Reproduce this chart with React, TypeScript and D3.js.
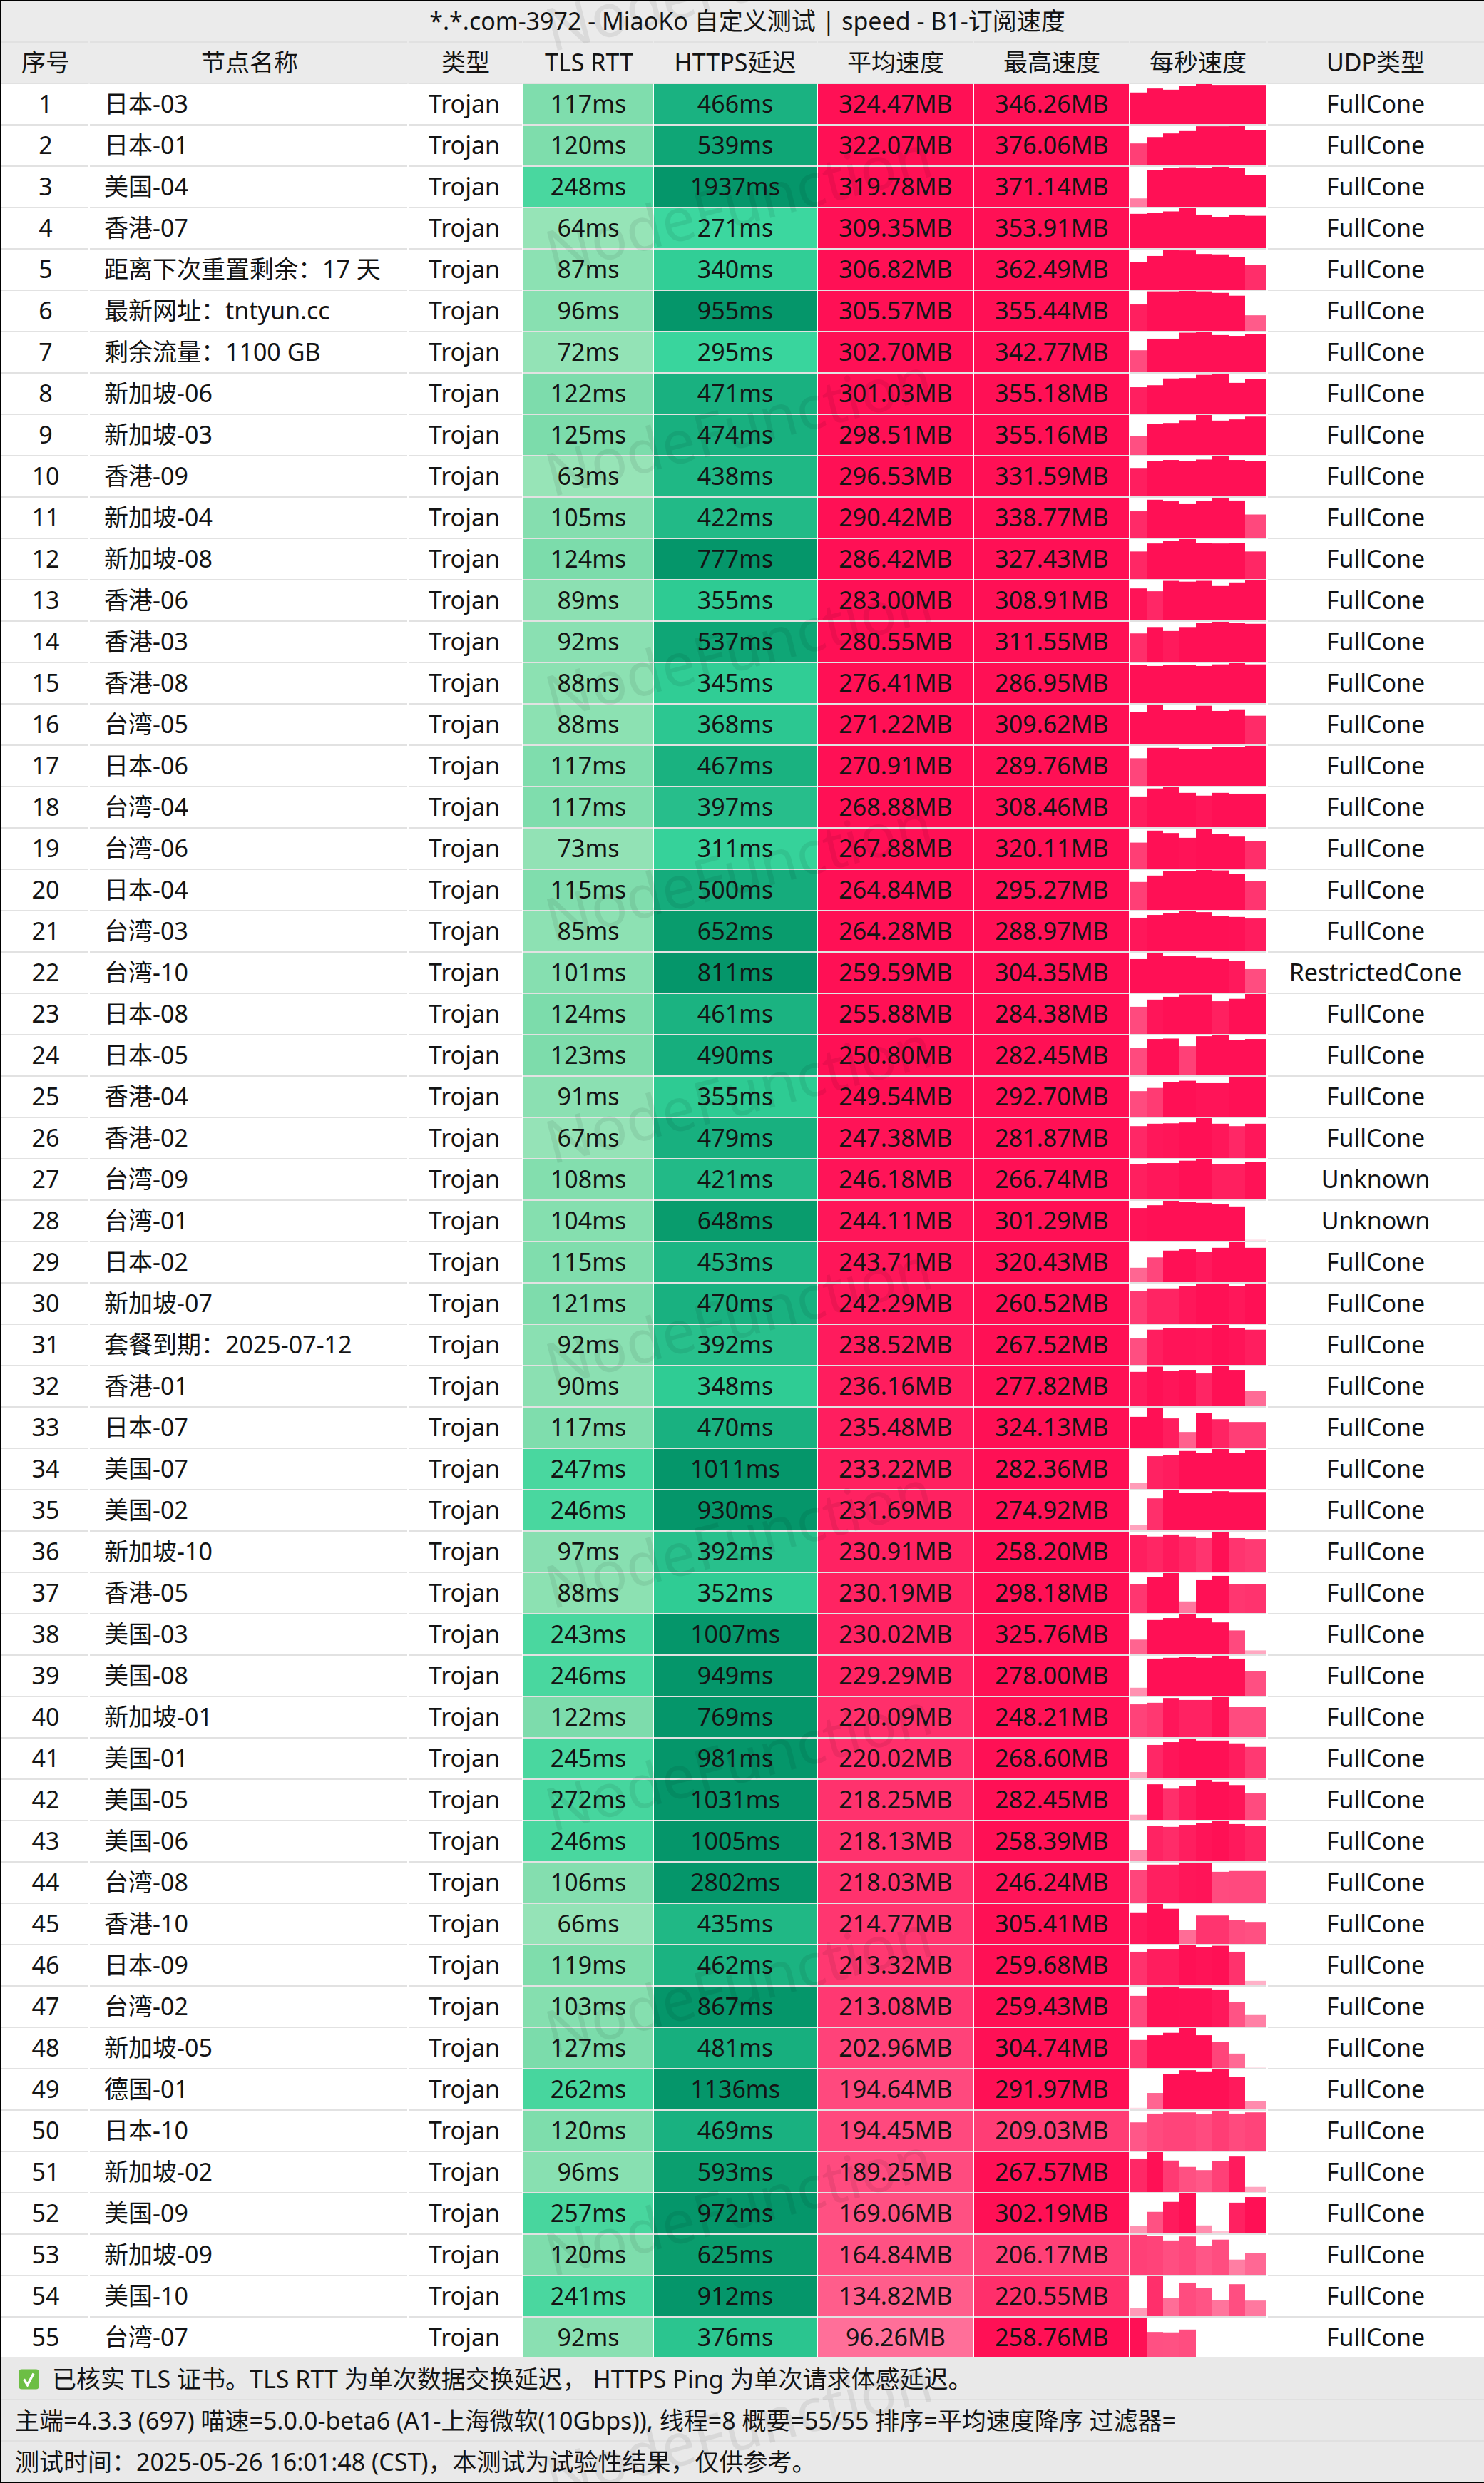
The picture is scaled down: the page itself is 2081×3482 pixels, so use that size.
import React from "react";
import * as d3 from "d3";

const title = "*.*.com-3972 - MiaoKo 自定义测试 | speed - B1-订阅速度";
const headers = ["序号", "节点名称", "类型", "TLS RTT", "HTTPS延迟", "平均速度", "最高速度", "每秒速度", "UDP类型"];
const names = ["日本-03","日本-01","美国-04","香港-07","距离下次重置剩余：17 天","最新网址：tntyun.cc","剩余流量：1100 GB","新加坡-06","新加坡-03","香港-09","新加坡-04","新加坡-08","香港-06","香港-03","香港-08","台湾-05","日本-06","台湾-04","台湾-06","日本-04","台湾-03","台湾-10","日本-08","日本-05","香港-04","香港-02","台湾-09","台湾-01","日本-02","新加坡-07","套餐到期：2025-07-12","香港-01","日本-07","美国-07","美国-02","新加坡-10","香港-05","美国-03","美国-08","新加坡-01","美国-01","美国-05","美国-06","台湾-08","香港-10","日本-09","台湾-02","新加坡-05","德国-01","日本-10","新加坡-02","美国-09","新加坡-09","美国-10","台湾-07"];
const tlsRtt = [117,120,248,64,87,96,72,122,125,63,105,124,89,92,88,88,117,117,73,115,85,101,124,123,91,67,108,104,115,121,92,90,117,247,246,97,88,243,246,122,245,272,246,106,66,119,103,127,262,120,96,257,120,241,92];
const httpsDelay = [466,539,1937,271,340,955,295,471,474,438,422,777,355,537,345,368,467,397,311,500,652,811,461,490,355,479,421,648,453,470,392,348,470,1011,930,392,352,1007,949,769,981,1031,1005,2802,435,462,867,481,1136,469,593,972,625,912,376];
const avgSpeed = [324.47,322.07,319.78,309.35,306.82,305.57,302.70,301.03,298.51,296.53,290.42,286.42,283.00,280.55,276.41,271.22,270.91,268.88,267.88,264.84,264.28,259.59,255.88,250.80,249.54,247.38,246.18,244.11,243.71,242.29,238.52,236.16,235.48,233.22,231.69,230.91,230.19,230.02,229.29,220.09,220.02,218.25,218.13,218.03,214.77,213.32,213.08,202.96,194.64,194.45,189.25,169.06,164.84,134.82,96.26];
const maxSpeed = [346.26,376.06,371.14,353.91,362.49,355.44,342.77,355.18,355.16,331.59,338.77,327.43,308.91,311.55,286.95,309.62,289.76,308.46,320.11,295.27,288.97,304.35,284.38,282.45,292.70,281.87,266.74,301.29,320.43,260.52,267.52,277.82,324.13,282.36,274.92,258.20,298.18,325.76,278.00,248.21,268.60,282.45,258.39,246.24,305.41,259.68,259.43,304.74,291.97,209.03,267.57,302.19,206.17,220.55,258.76];
const udpType = names.map((_, i) => (i === 21 ? "RestrictedCone" : i === 26 || i === 27 ? "Unknown" : "FullCone"));
const perSecondPct = [
[79,89,86,95,100,98,98,98],[55,71,80,86,98,98,100,89],[21,92,97,99,97,100,98,79],[86,88,92,100,84,77,84,81],[69,84,100,98,89,88,82,61],
[66,99,99,100,99,95,88,39],[55,84,84,99,100,93,91,95],[66,71,88,89,97,100,77,86],[48,78,80,87,100,86,89,96],[71,88,91,88,92,100,91,88],
[66,95,91,84,92,100,93,58],[69,89,95,100,91,89,91,69],[80,73,99,97,99,86,95,100],[71,87,77,87,98,100,98,95],[95,93,95,95,93,97,100,97],
[82,100,86,86,97,84,88,72],[69,95,95,92,92,98,98,100],[77,97,100,86,79,86,84,84],[65,95,89,77,100,87,80,69],[70,86,97,97,100,99,91,73],
[84,91,96,100,98,89,86,82],[84,100,91,91,88,84,79,59],[68,86,93,99,99,82,88,100],[68,91,92,73,98,100,89,91],[64,72,86,90,84,84,100,99],
[80,86,87,89,100,86,80,86],[88,91,91,97,100,88,88,93],[82,89,100,98,95,91,86,3],[36,62,79,82,75,86,100,86],[81,88,88,93,99,100,93,99],
[66,88,92,92,91,100,92,88],[86,99,88,91,82,100,91,38],[77,100,73,39,87,71,64,64],[16,82,84,95,91,100,91,97],[14,80,100,93,93,98,96,96],
[91,88,93,88,84,100,84,82],[72,91,100,29,84,93,72,73],[37,86,91,100,91,80,60,10],[20,93,95,97,95,100,93,62],[82,86,98,93,93,100,75,75],
[16,84,91,100,95,95,88,79],[13,89,78,84,100,95,87,66],[28,89,86,91,95,100,93,88],[81,95,95,99,100,77,79,79],[79,100,88,34,71,71,60,55],
[84,91,91,100,95,99,84,11],[77,98,100,96,96,93,61,29],[70,82,88,100,82,66,36,2],[4,41,88,98,95,100,82,21],[71,93,96,96,91,100,93,96],
[84,100,79,63,55,77,89,13],[18,54,79,100,20,7,77,91],[100,98,86,96,73,88,38,54],[21,100,46,84,71,41,80,39],[100,64,63,70,0,0,0,0],
];
const footerLines = [
  "已核实 TLS 证书。TLS RTT 为单次数据交换延迟， HTTPS Ping 为单次请求体感延迟。",
  "主端=4.3.3 (697) 喵速=5.0.0-beta6 (A1-上海微软(10Gbps)), 线程=8 概要=55/55 排序=平均速度降序 过滤器=",
  "测试时间：2025-05-26 16:01:48 (CST)，本测试为试验性结果，仅供参考。",
];
const watermark = "NodeFunction";
const watermarkBaselines = [73, 385, 697, 1009, 1321, 1633, 1945, 2257, 2569, 2881, 3193, 3505];

const W = 2081, H = 3482;
const rowTop = d3.scaleLinear().domain([0, 55]).range([118, 118 + 58 * 55]);
const cellH = 56;
const barEdge = d3.scaleLinear().domain([0, 7]).range([1585, 1746]);
const barEnd = 1776;

const tlsColor = d3.scaleLinear<string>().domain([60, 125, 241, 272]).range(["#98E4B8", "#7CDCAB", "#4AD79F", "#46D69E"]).clamp(true);
const httpsColor = d3.scaleLinear<string>()
  .domain([271, 295, 355, 397, 438, 470, 537, 600, 777, 2802])
  .range(["#3CD79F", "#39D59D", "#2ECB93", "#27BE8B", "#1FB885", "#19B180", "#0FA676", "#0B9E6E", "#05966A", "#05966A"]).clamp(true);
const speedAlpha = d3.scaleLinear()
  .domain([0, 10, 32, 60, 96, 135, 165, 195, 206, 217, 225, 235, 250])
  .range([0.05, 0.14, 0.36, 0.48, 0.6, 0.68, 0.73, 0.76, 0.8, 0.85, 0.9, 0.94, 1]).clamp(true);
const mixRed = d3.interpolateRgb("#FFFFFF", "#FF1055");
const speedColor = (v: number) => mixRed(speedAlpha(v));

const FONT = '"Noto Sans","Noto Sans CJK SC",sans-serif';
const FS = 34;
const INK = "#141414";

// column separators: [x0, x1]
const sepCols: [number, number][] = [[1, 124], [126, 571], [573, 732], [734, 915], [917, 1145], [1147, 1364], [1366, 1583], [1585, 1776], [1778, 2081]];
const headCenters = [64, 350, 653, 826, 1031, 1256, 1475, 1680, 1929];
const colored = [
  { x0: 734, x1: 915 }, { x0: 917, x1: 1145 }, { x0: 1147, x1: 1364 }, { x0: 1366, x1: 1583 },
];

function Seps({ y, color = "#E2E2E2" }: { y: number; color?: string }) {
  return <>{sepCols.map(([a, b], i) => <rect key={i} x={a} y={y} width={b - a} height={2} fill={color} />)}</>;
}

export default function App() {
  const T = (p: any) => <text fontFamily={FONT} fontSize={FS} fill={INK} {...p} />;
  return (
    <svg width={W} height={H} viewBox={`0 0 ${W} ${H}`} style={{ position: "absolute", left: 0, top: 0, display: "block" }}>
      <rect width={W} height={H} fill="#FFFFFF" />
      {/* title + header */}
      <rect x={1} y={2} width={W - 1} height={116} fill="#EBEBEB" />
      <Seps y={58} color="#E1E1E1" />
      <Seps y={116} color="#E1E1E1" />
      {/* footer */}
      <rect x={1} y={3306} width={W - 1} height={174} fill="#E9E9E9" />
      <rect x={1} y={3364} width={W - 1} height={2} fill="#E0E0E0" />
      <rect x={1} y={3422} width={W - 1} height={2} fill="#E0E0E0" />

      {/* row separators */}
      {names.map((_, i) => i < 54 ? <Seps key={i} y={rowTop(i) + cellH} /> : null)}

      {/* coloured cells */}
      {names.map((_, i) => {
        const y = rowTop(i);
        const fills = [tlsColor(tlsRtt[i]), httpsColor(httpsDelay[i]), speedColor(avgSpeed[i]), speedColor(maxSpeed[i])];
        return (
          <g key={i}>
            {colored.map((c, k) => <rect key={k} x={c.x0} y={y} width={c.x1 - c.x0} height={cellH} fill={fills[k]} />)}
          </g>
        );
      })}

      {/* per-second bars */}
      {perSecondPct.map((row, i) => {
        const top = rowTop(i);
        const yS = d3.scaleLinear().domain([0, maxSpeed[i]]).range([top + cellH, top]);
        return (
          <g key={i}>
            {row.map((pct, k) => {
              const v = (pct / 100) * maxSpeed[i];
              if (v <= 0) return null;
              const x0 = barEdge(k);
              const x1 = k === 7 ? barEnd : barEdge(k + 1);
              return <rect key={k} x={x0} y={yS(v)} width={x1 - x0} height={top + cellH - yS(v)} fill={speedColor(v)} />;
            })}
          </g>
        );
      })}

      {/* watermark */}
      {watermarkBaselines.map((y, i) => (
        <text key={i} transform={`translate(774,${y}) rotate(-14.5)`} fontFamily={FONT} fontSize={84} fill="rgba(0,0,0,0.07)">{watermark}</text>
      ))}

      {/* titles */}
      <T x={1048} y={42} textAnchor="middle">{title}</T>
      {headers.map((h, i) => <T key={i} x={headCenters[i]} y={100} textAnchor="middle">{h}</T>)}

      {/* row text */}
      {names.map((n, i) => {
        const b = rowTop(i) + 40;
        return (
          <g key={i}>
            <T x={64} y={b} textAnchor="middle">{i + 1}</T>
            <T x={146} y={b}>{n}</T>
            <T x={651} y={b} textAnchor="middle">Trojan</T>
            <T x={825} y={b} textAnchor="middle">{`${tlsRtt[i]}ms`}</T>
            <T x={1031} y={b} textAnchor="middle">{`${httpsDelay[i]}ms`}</T>
            <T x={1256} y={b} textAnchor="middle">{`${avgSpeed[i].toFixed(2)}MB`}</T>
            <T x={1475} y={b} textAnchor="middle">{`${maxSpeed[i].toFixed(2)}MB`}</T>
            <T x={1929} y={b} textAnchor="middle">{udpType[i]}</T>
          </g>
        );
      })}

      {/* footer */}
      <rect x={26.5} y={3322.5} width={28} height={28} rx={4} fill="#6DBE45" />
      <path d="M33.5 3336.5 L38.5 3344.5 L47 3328.5" fill="none" stroke="#FFFFFF" strokeWidth={3.4} />
      <T x={73} y={3349}>{footerLines[0]}</T>
      <T x={21} y={3407}>{footerLines[1]}</T>
      <T x={21} y={3465}>{footerLines[2]}</T>

      {/* outer frame */}
      <rect x={0} y={0} width={W} height={2} fill="#000000" />
      <rect x={0} y={0} width={1} height={H} fill="#000000" />
      <rect x={0} y={3480} width={W} height={2} fill="#000000" />
    </svg>
  );
}
